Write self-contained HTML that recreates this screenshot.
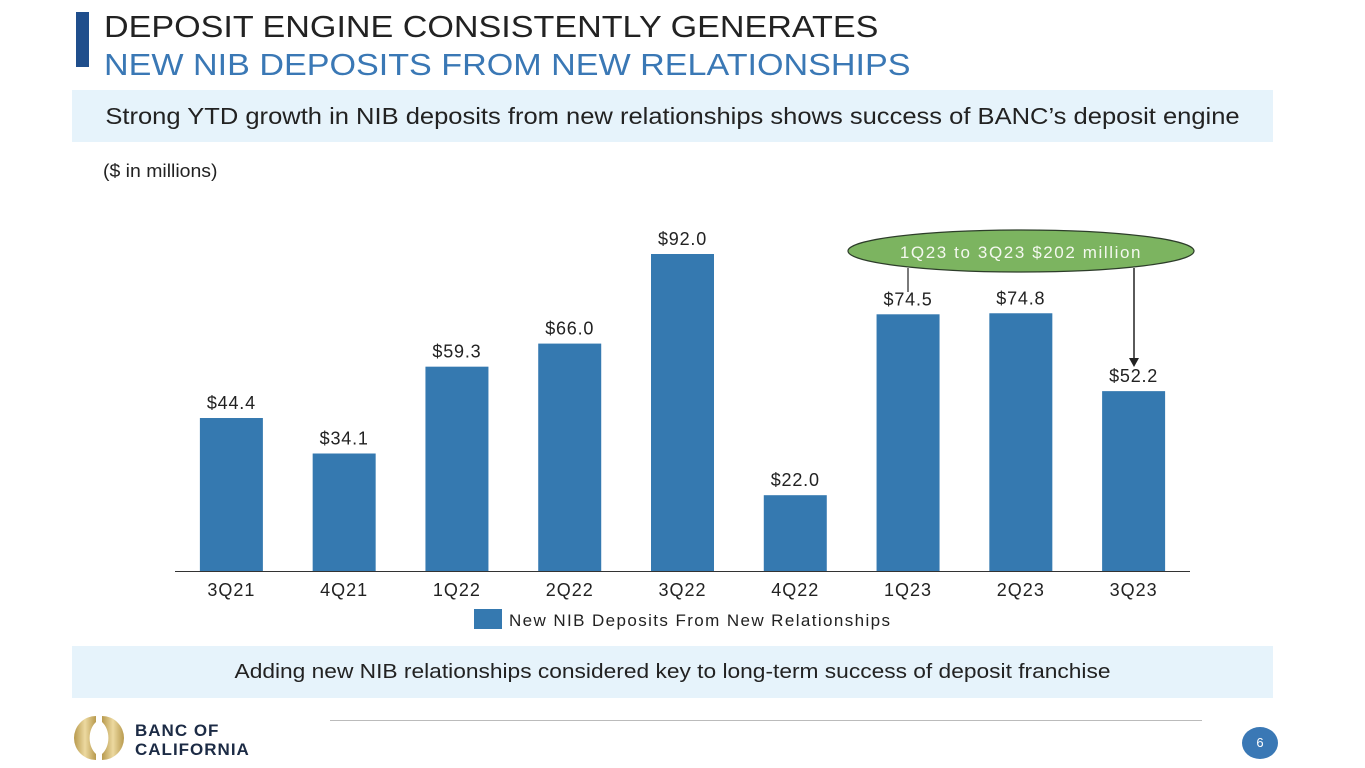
<!DOCTYPE html>
<html><head><meta charset="utf-8"><style>
body{margin:0;width:1365px;height:768px;background:#fff;font-family:"Liberation Sans",sans-serif;position:relative;overflow:hidden}
.a{position:absolute}
</style></head><body>
<div class="a" style="left:76px;top:12px;width:13px;height:55px;background:#1f4e8c"></div>
<div class="a" style="left:104px;top:9px;font-size:31px;color:#222;white-space:nowrap;transform:scaleX(1.1);transform-origin:left">DEPOSIT ENGINE CONSISTENTLY GENERATES</div>
<div class="a" style="left:104px;top:47px;font-size:31px;color:#3a78b5;white-space:nowrap;transform:scaleX(1.1);transform-origin:left">NEW NIB DEPOSITS FROM NEW RELATIONSHIPS</div>
<div class="a" style="left:72px;top:90px;width:1201px;height:52px;background:#e6f3fb"></div>
<div class="a" style="left:72px;top:90px;width:1201px;height:52px;font-size:23px;color:#222;line-height:52px;text-align:center;white-space:nowrap;transform:scaleX(1.11)">Strong YTD growth in NIB deposits from new relationships shows success of BANC’s deposit engine</div>
<div class="a" style="left:103px;top:161px;font-size:18px;color:#222;transform:scaleX(1.08);transform-origin:left">($ in millions)</div>
<svg class="a" style="left:0;top:0" width="1365" height="768" id="chart"></svg>
<div class="a" style="left:72px;top:646px;width:1201px;height:52px;background:#e6f3fb"></div>
<div class="a" style="left:72px;top:646px;width:1201px;height:52px;font-size:20px;color:#222;line-height:52px;text-align:center;white-space:nowrap;transform:scaleX(1.137)">Adding new NIB relationships considered key to long-term success of deposit franchise</div>
<div class="a" style="left:330px;top:720px;width:872px;height:1px;background:#bbb"></div>
<svg class="a" style="left:72px;top:712px" width="56" height="52">
<defs><linearGradient id="g" x1="0" x2="1"><stop offset="0" stop-color="#b89a4e"/><stop offset=".5" stop-color="#ecd9a0"/><stop offset="1" stop-color="#b89a4e"/></linearGradient></defs>
<path d="M24 4 A22 22 0 0 0 24 48 L24 42 A16 20 0 0 1 24 10 Z" fill="url(#g)"/>
<path d="M30 4 A22 22 0 0 1 30 48 L30 42 A16 20 0 0 0 30 10 Z" fill="url(#g)"/>
</svg>
<div class="a" style="left:135px;top:721px;font-size:17px;font-weight:bold;color:#1c2b45;line-height:19px;letter-spacing:1px">BANC OF<br>CALIFORNIA</div>
<div class="a" style="left:1242px;top:727px;width:36px;height:32px;border-radius:50%;background:#3a78b5;color:#fff;font-size:13px;text-align:center;line-height:32px">6</div>
<script>
const categories=["3Q21","4Q21","1Q22","2Q22","3Q22","4Q22","1Q23","2Q23","3Q23"];
const values=[44.4,34.1,59.3,66.0,92.0,22.0,74.5,74.8,52.2];
const labels=["$44.4","$34.1","$59.3","$66.0","$92.0","$22.0","$74.5","$74.8","$52.2"];
const svg=document.getElementById('chart');const NS="http://www.w3.org/2000/svg";
const x0=175,x1=1190,base=571,scale=317/92,bw=63;
const step=(x1-x0)/categories.length;
const xc=i=>x0+step*(i+0.5);const y=v=>base-v*scale;
function mk(t,a){const e=document.createElementNS(NS,t);for(const k in a)e.setAttribute(k,a[k]);svg.appendChild(e);return e;}
categories.forEach((c,i)=>{
const r=mk('rect',{x:xc(i)-bw/2,y:y(values[i]),width:bw,height:base-y(values[i]),fill:'#3579b0'});


const l=mk('text',{x:xc(i),y:y(values[i])-9,'text-anchor':'middle','font-size':18,'letter-spacing':0.8,fill:'#222'});l.textContent=labels[i];


const t=mk('text',{x:xc(i),y:596,'text-anchor':'middle','font-size':18,'letter-spacing':1,fill:'#222'});t.textContent=c;


});
const ax=mk('line',{x1:x0,x2:x1,y1:base+0.5,y2:base+0.5,stroke:'#333','stroke-width':1});


const sw=mk('rect',{x:474,y:609,width:28,height:20,fill:'#3579b0'});


const lt=mk('text',{x:509,y:626,'font-size':17,'letter-spacing':1.4,fill:'#222'});lt.textContent='New NIB Deposits From New Relationships';


const l1=mk('line',{x1:908,x2:908,y1:268,y2:292,stroke:'#222','stroke-width':1.2});


const l2=mk('line',{x1:1134,x2:1134,y1:268,y2:358,stroke:'#222','stroke-width':1.5});


const ah=mk('polygon',{points:'1129,358 1139,358 1134,367',fill:'#222'});


const el=mk('ellipse',{cx:1021,cy:251,rx:173,ry:21,fill:'#7cb460',stroke:'#2d3d2a','stroke-width':1.2});


const et=mk('text',{x:1021,y:258,'text-anchor':'middle','font-size':17,'letter-spacing':1.6,fill:'#f4f8ef'});et.textContent='1Q23 to 3Q23 $202 million';


</script>
</body></html>
